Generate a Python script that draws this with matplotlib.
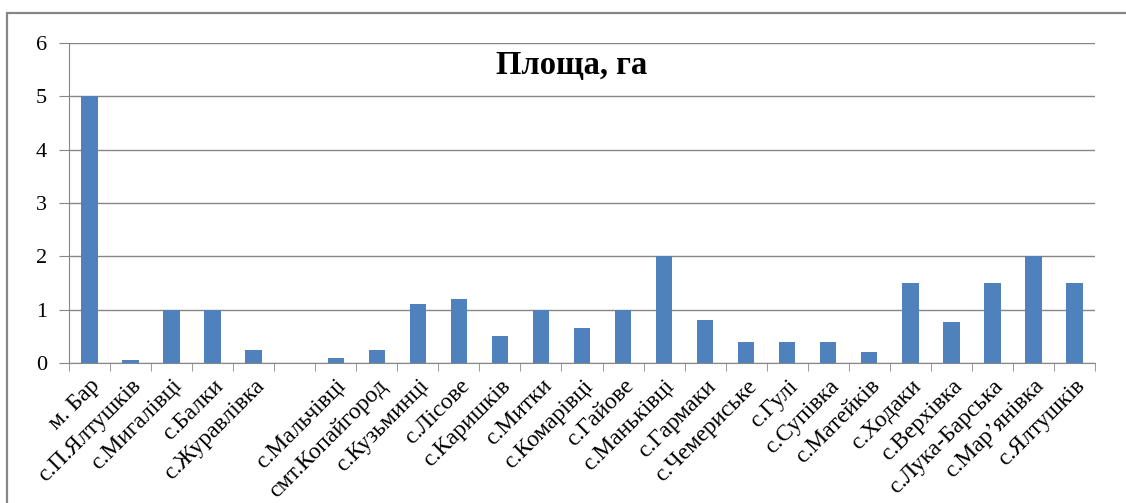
import matplotlib
matplotlib.use('Agg')
import matplotlib.pyplot as plt
from matplotlib.patches import Rectangle
import numpy as np

plt.rcParams['font.family'] = ['Liberation Serif', 'DejaVu Serif']

villages = ['м. Бар', 'с.П.Ялтушків', 'с.Мигалівці', 'с.Балки', 'с.Журавлівка', '',
            'с.Мальчівці', 'смт.Копайгород', 'с.Кузьминці', 'с.Лісове', 'с.Каришків',
            'с.Митки', 'с.Комарівці', 'с.Гайове', 'с.Маньківці', 'с.Гармаки',
            'с.Чемериське', 'с.Гулі', 'с.Супівка', 'с.Матейків', 'с.Ходаки',
            'с.Верхівка', 'с.Лука-Барська', 'с.Мар’янівка', 'с.Ялтушків']
area = [5, 0.06, 1, 1, 0.25, 0,
        0.1, 0.25, 1.1, 1.2, 0.5,
        1, 0.65, 1, 2, 0.8,
        0.4, 0.4, 0.4, 0.2, 1.5,
        0.76, 1.5, 2, 1.5]
title = 'Площа, га'

W, H = 1126, 503
fig = plt.figure(figsize=(W / 100, H / 100), dpi=100)

# рамка області діаграми
fig.patches.append(Rectangle((7 / W, -0.1), 1.2, 1 - 13 / H + 0.1,
                             transform=fig.transFigure, fill=False,
                             edgecolor='#868686', linewidth=1.6))

ax = fig.add_axes([69 / W, (H - 363) / H, (1095 - 69) / W, (363 - 43) / H])
x = np.arange(len(villages))
ax.bar(x, area, width=0.4, color='#4F81BD', zorder=3)

ax.set_xlim(-0.5, len(villages) - 0.5)
ax.set_ylim(0, 6)
ax.set_yticks(range(0, 7))
ax.yaxis.grid(True, color='#868686', linewidth=1)
ax.set_axisbelow(True)

ax.set_xticks(x)
ax.set_xticklabels(villages, rotation=45, ha='right', rotation_mode='anchor', fontsize=17)
ax.tick_params(axis='x', length=0, pad=9)
ax.set_xticks(np.arange(-0.5, len(villages)), minor=True)
ax.tick_params(axis='x', which='minor', length=6, color='#868686')
ax.tick_params(axis='y', length=7, color='#868686', labelsize=16, pad=9)

for s in ['top', 'right']:
    ax.spines[s].set_visible(False)
for s in ['left', 'bottom']:
    ax.spines[s].set_color('#868686')

ax.text(0.49, 0.93, title, transform=ax.transAxes, ha='center', va='center',
        fontsize=23.5, fontweight='bold')

fig.savefig('out.png', dpi=100)
